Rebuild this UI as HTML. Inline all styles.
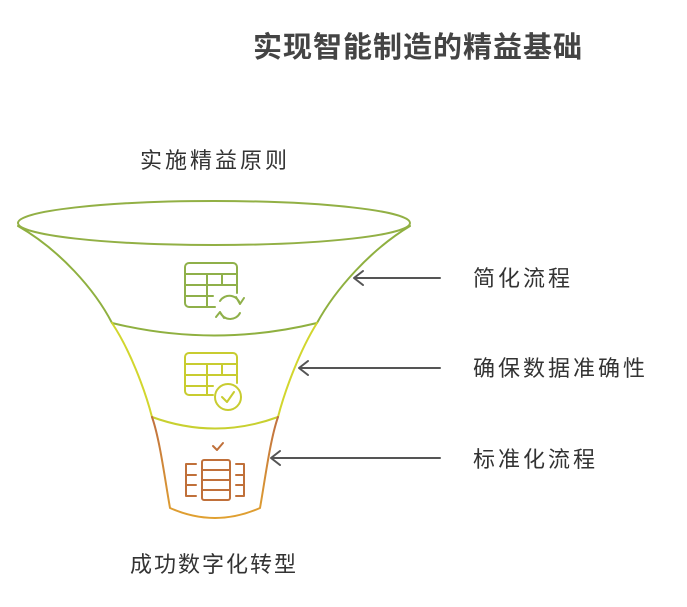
<!DOCTYPE html>
<html><head><meta charset="utf-8"><style>
body{margin:0;background:#fff;width:687px;height:607px;overflow:hidden;position:relative;font-family:"Liberation Sans","Noto Sans CJK SC",sans-serif}
.t{position:absolute;white-space:nowrap;color:#333}
</style></head><body>
<svg width="687" height="607" style="position:absolute;left:0;top:0" fill="none" stroke-linecap="round" stroke-linejoin="round">
<defs>
<linearGradient id="g3" x1="0" y1="0" x2="0" y2="1"><stop offset="0" stop-color="#c07040"/><stop offset="1" stop-color="#e0a030"/></linearGradient>
</defs>
<path d="M18,226 C60,250 95,290 112,323 M410,226 C370,250 335,290 317,323" stroke="#8fb040" stroke-width="2"/>
<ellipse cx="214" cy="223" rx="196" ry="22" stroke="#92b045" stroke-width="2"/>
<path d="M112,323 Q214,348 317,323" stroke="#8fb040" stroke-width="2"/>
<path d="M112,323 C130,350 145,390 152,417 M317,323 C300,350 285,390 278,417" stroke="#d2d62e" stroke-width="2"/>
<path d="M152,417 Q215,440 278,417" stroke="#c8d030" stroke-width="2"/>
<path d="M152,417 C160,440 165,480 170,508 Q215,528 260,508 C265,480 270,440 278,417" stroke="url(#g3)" stroke-width="2"/>
<g stroke="#555" stroke-width="2">
<line x1="355" y1="278" x2="440" y2="278"/><path d="M363,271 L354,278 L363,285"/>
<line x1="300" y1="368" x2="440" y2="368"/><path d="M308,361 L299,368 L308,375"/>
<line x1="272" y1="458" x2="440" y2="458"/><path d="M280,451 L271,458 L280,465"/>
</g>
<g stroke="#8fb04a" stroke-width="2">
<path d="M215,307 H189 a4,4 0 0 1 -4,-4 V267 a4,4 0 0 1 4,-4 H233 a4,4 0 0 1 4,4 V293"/>
<path d="M185,274 H237 M185,285 H237 M185,296 H213 M207,274 V307 M222,274 V285"/>
<path d="M220,301 A11,11 0 0 1 240,304 M240,313 A11,11 0 0 1 220,312 M236,297 L240,304 L244,298 M224,318 L220,312 L216,317"/>
</g>
<g stroke="#c8cc30" stroke-width="2">
<path d="M213,395 H189 a4,4 0 0 1 -4,-4 V357 a4,4 0 0 1 4,-4 H233 a4,4 0 0 1 4,4 V383"/>
<path d="M185,364 H237 M185,375 H237 M185,386 H213 M207,364 V395 M222,364 V375"/>
<circle cx="228" cy="397" r="13"/><path d="M222,397 L227,402 L234,392"/>
</g>
<g stroke="#c0703a" stroke-width="2">
<path d="M213,446 L217,450 L223,443"/>
<rect x="202" y="460" width="28" height="40" rx="2"/>
<path d="M202,470 H230 M202,480 H230 M202,490 H230"/>
<path d="M196,464 H186 V496 H196 M186,475 H196 M186,485 H196"/>
<path d="M236,464 H244 V496 H236 M236,475 H244 M236,485 H244"/>
</g>
</svg>
<div class="t" style="left:253px;top:24px;font-size:29px;font-weight:bold;letter-spacing:1px;color:#444">实现智能制造的精益基础</div>
<div class="t" style="left:140px;top:143px;font-size:22px;letter-spacing:3px">实施精益原则</div>
<div class="t" style="left:473px;top:261px;font-size:22px;letter-spacing:3px">简化流程</div>
<div class="t" style="left:473px;top:351px;font-size:22px;letter-spacing:3px">确保数据准确性</div>
<div class="t" style="left:473px;top:442px;font-size:22px;letter-spacing:3px">标准化流程</div>
<div class="t" style="left:130px;top:547px;font-size:22px;letter-spacing:2px">成功数字化转型</div>
</body></html>
